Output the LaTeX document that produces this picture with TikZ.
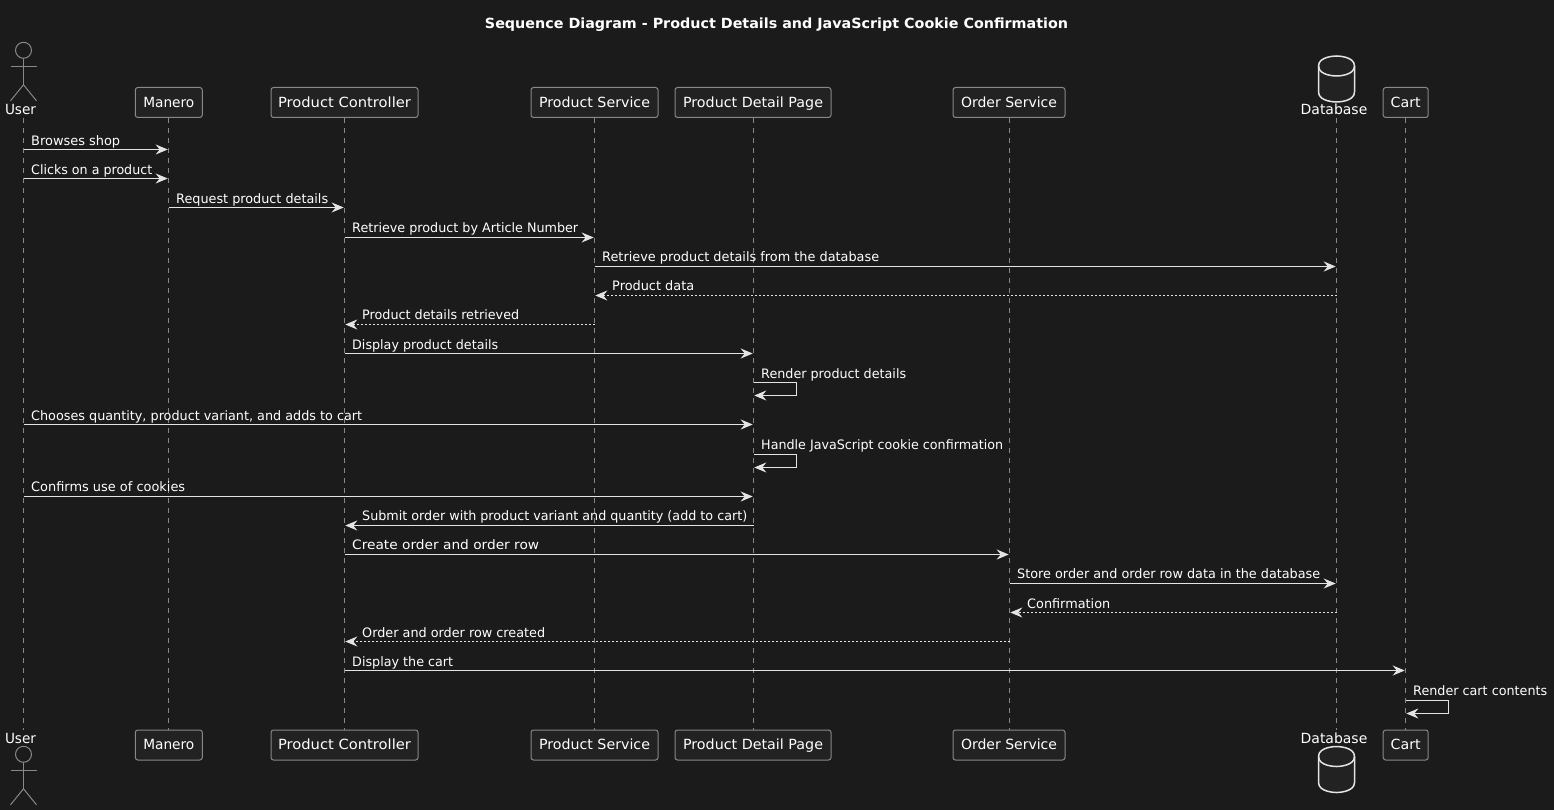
\documentclass[tikz,border=0pt]{standalone}
\usepackage{fontspec}
\setmainfont{DejaVu Sans}
\usetikzlibrary{arrows.meta}
\definecolor{bgc}{HTML}{1B1B1B}
\definecolor{boxc}{HTML}{222222}
\definecolor{edgec}{HTML}{888888}
\definecolor{linec}{HTML}{E4E4E4}
\newcommand{\msglbl}{\fontsize{13}{15}\selectfont}
\newcommand{\fitw}[2]{\resizebox{#1pt}{\height}{#2}}
\tikzset{
  partbox/.style={draw=edgec,fill=boxc,rounded corners=2.5pt,line width=1pt,minimum height=30pt,inner sep=0pt,text=white,text height=12pt,text depth=2.4pt,font=\fontsize{14}{16}\selectfont},
  partname/.style={text=white,inner sep=0pt,anchor=base,font=\fontsize{14}{16}\selectfont},
  lifeline/.style={draw=edgec,line width=1pt,dash pattern=on 5pt off 5pt},
  msgline/.style={draw=linec,line width=1pt,shorten >=0.8pt,-{Stealth[length=12pt,width=10pt,inset=4pt,fill=linec]}},
  retline/.style={msgline,dash pattern=on 2pt off 2pt},
  msglabel/.style={text=white,inner sep=0pt,anchor=base west,font=\msglbl},
  stick/.style={draw=edgec,line width=1pt},
  drum/.style={draw=linec,line width=1.5pt,fill=boxc},
}
\newcommand{\selfarrow}[2]{%
  \draw[msgline] (#1 |- 0,#2) -- ++(42.5,0) -- ++(0,13) -- (#1 |- 0,#2+13);
}
\newcommand{\actorfig}[1]{%
  \draw[stick] (23.5,#1) circle (8);
  \draw[stick] (23.5,#1+8) -- (23.5,#1+34.5);
  \draw[stick] (10.5,#1+16) -- (36.5,#1+16);
  \draw[stick] (10.5,#1+50.5) -- (23.5,#1+34.5) -- (36.5,#1+50.5);
}
\newcommand{\drumfig}[2]{%
  \draw[drum] (#1,#2+10) .. controls (#1,#2) and (#1+18,#2) .. (#1+18,#2)
     .. controls (#1+18,#2) and (#1+36,#2) .. (#1+36,#2+10)
     -- (#1+36,#2+36) .. controls (#1+36,#2+46) and (#1+18,#2+46) .. (#1+18,#2+46)
     .. controls (#1+18,#2+46) and (#1,#2+46) .. (#1,#2+36) -- cycle;
  \draw[drum,fill=none] (#1,#2+10) .. controls (#1,#2+20) and (#1+18,#2+20) .. (#1+18,#2+20)
     .. controls (#1+18,#2+20) and (#1+36,#2+20) .. (#1+36,#2+10);
}
\newcommand{\lbl}[5]{\node[msglabel] (#1) at (#2,#3) {\fitw{#4}{#5}};}
\newcommand{\arrowline}[4][msgline]{\draw[#1] (#2 |- 0,#4) -- (#3 |- 0,#4);}
\begin{document}
\begin{tikzpicture}[x=1pt,y=-1pt]
\fill[bgc] (0,0) rectangle (1554,810);
\useasboundingbox (0,0) rectangle (1554,810);
\node[text=white,inner sep=0pt,anchor=base,font=\fontsize{14}{16}\selectfont\bfseries] (title) at (776.5,28.6) {\fitw{583}{Sequence Diagram - Product Details and JavaScript Cookie Confirmation}};
% lifelines
\foreach \n/\x in {u/23.5,m/168.5,pc/344.5,ps/594.5,pd/753.5,os/1009.5,db/1336.5,ca/1405.5}{
  \coordinate (\n) at (\x,118);
  \coordinate (\n b) at (\x,730);
  \draw[lifeline] (\n) -- (\n b);
}
% heads
\actorfig{50.3}
\node[partname] (userT) at (20.5,115) {\fitw{31}{User}};
\node[partbox,minimum width=67pt] (maneroT) at (168.8,102.5) {\fitw{51}{Manero}};
\node[partbox,minimum width=147pt] (pcT) at (344.5,102.5) {\fitw{133}{Product Controller}};
\node[partbox,minimum width=127pt] (psT) at (594.5,102.5) {\fitw{111}{Product Service}};
\node[partbox,minimum width=156pt] (pdT) at (753,102.5) {\fitw{140}{Product Detail Page}};
\node[partbox,minimum width=112pt] (osT) at (1009,102.5) {\fitw{96}{Order Service}};
\drumfig{1318.5}{56}
\node[partname] (dbT) at (1334,115) {\fitw{66.7}{Database}};
\node[partbox,minimum width=45pt] (caT) at (1405.7,102.5) {\fitw{30}{Cart}};
% feet
\actorfig{754.3}
\node[partname] (userB) at (20.5,743) {\fitw{31}{User}};
\node[partbox,minimum width=67pt] (maneroB) at (168.8,745) {\fitw{51}{Manero}};
\node[partbox,minimum width=147pt] (pcB) at (344.5,745) {\fitw{133}{Product Controller}};
\node[partbox,minimum width=127pt] (psB) at (594.5,745) {\fitw{111}{Product Service}};
\node[partbox,minimum width=156pt] (pdB) at (753,745) {\fitw{140}{Product Detail Page}};
\node[partbox,minimum width=112pt] (osB) at (1009,745) {\fitw{96}{Order Service}};
\drumfig{1318.5}{746.5}
\node[partname] (dbB) at (1334,743) {\fitw{66.7}{Database}};
\node[partbox,minimum width=45pt] (caB) at (1405.7,745) {\fitw{30}{Cart}};
% messages
\arrowline{u}{m}{149.5}
\lbl{l1}{31}{145.5}{89}{Browses shop}
\arrowline{u}{m}{178.5}
\lbl{l2}{31}{174.5}{121}{Clicks on a product}
\arrowline{m}{pc}{207.5}
\lbl{l3}{176}{203.5}{152}{Request product details}
\arrowline{pc}{ps}{237.5}
\lbl{l4}{352}{232.5}{226}{Retrieve product by Article Number}
\arrowline{ps}{db}{266.5}
\lbl{l5}{602}{261.5}{277}{Retrieve product details from the database}
\arrowline[retline]{db}{ps}{295.5}
\lbl{l6}{612}{290.5}{82}{Product data}
\arrowline[retline]{ps}{pc}{324.5}
\lbl{l7}{362}{319.5}{157}{Product details retrieved}
\arrowline{pc}{pd}{353.5}
\lbl{l8}{352}{349}{146}{Display product details}
\selfarrow{pd}{382.5}
\lbl{l9}{761}{378}{145}{Render product details}
\arrowline{u}{pd}{424.5}
\lbl{l10}{31}{420}{331}{Chooses quantity, product variant, and adds to cart}
\selfarrow{pd}{454.5}
\lbl{l11}{761}{449.5}{242}{Handle JavaScript cookie confirmation}
\arrowline{u}{pd}{496.5}
\lbl{l12}{31}{491.5}{154}{Confirms use of cookies}
\arrowline{pd}{pc}{525.5}
\lbl{l13}{362}{520.5}{385}{Submit order with product variant and quantity (add to cart)}
\arrowline{pc}{os}{554.5}
\lbl{l14}{352}{549.5}{187}{Create order and order row}
\arrowline{os}{db}{583.5}
\lbl{l15}{1017}{578.5}{303}{Store order and order row data in the database}
\arrowline[retline]{db}{os}{612.5}
\lbl{l16}{1027}{608}{83}{Confirmation}
\arrowline[retline]{os}{pc}{641.5}
\lbl{l17}{362}{637}{183}{Order and order row created}
\arrowline{pc}{ca}{670.5}
\lbl{l18}{352}{666}{101}{Display the cart}
\selfarrow{ca}{700.5}
\lbl{l19}{1413}{695.5}{134}{Render cart contents}
\end{tikzpicture}
\end{document}
